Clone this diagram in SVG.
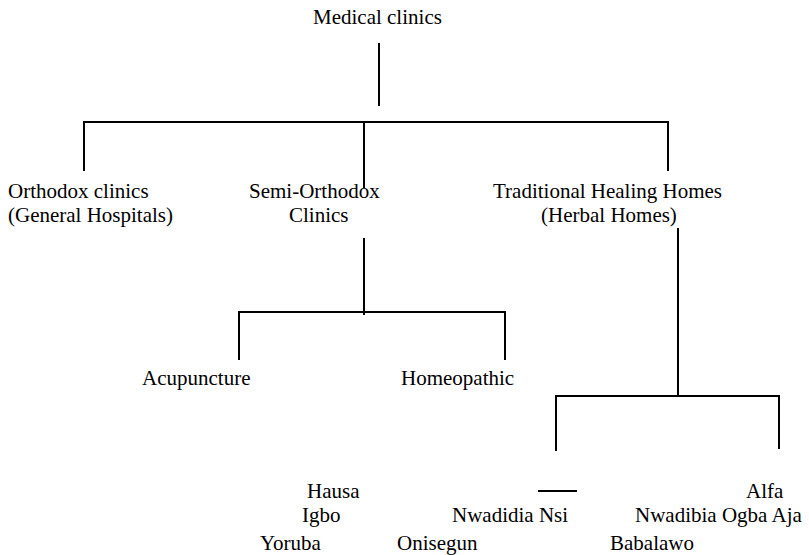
<svg xmlns="http://www.w3.org/2000/svg" width="809" height="555" viewBox="0 0 809 555">
<style>
text{font-family:"Liberation Serif","Times New Roman",serif;font-size:21px;fill:#000}
.c line{stroke:#000;stroke-width:2;fill:none}
</style>
<rect width="809" height="555" fill="#fff"/>
<g class="c" id="connectors">
<line x1="379" y1="43" x2="379" y2="106"/>
<line x1="83" y1="122" x2="669" y2="122"/>
<line x1="84" y1="122" x2="84" y2="171"/>
<line x1="364" y1="122" x2="364" y2="188"/>
<line x1="668" y1="122" x2="668" y2="171"/>
<line x1="364" y1="238" x2="364" y2="315"/>
<line x1="238" y1="312" x2="506" y2="312"/>
<line x1="239" y1="312" x2="239" y2="360"/>
<line x1="505" y1="312" x2="505" y2="360"/>
<line x1="678" y1="228" x2="678" y2="396"/>
<line x1="555" y1="396" x2="780" y2="396"/>
<line x1="556" y1="396" x2="556" y2="451"/>
<line x1="779" y1="396" x2="779" y2="449"/>
<line x1="538" y1="491" x2="577" y2="491"/>
</g>
<g id="medical"><text x="313" y="24">Medical clinics</text></g>
<g id="orthodox"><text x="8" y="198">Orthodox clinics</text><text x="8" y="222">(General Hospitals)</text></g>
<g id="semi"><text x="249" y="198">Semi-Orthodox</text><text x="289" y="222">Clinics</text></g>
<g id="traditional"><text x="493" y="198">Traditional Healing Homes</text><text x="541" y="222">(Herbal Homes)</text></g>
<g id="acupuncture"><text x="142" y="385">Acupuncture</text></g>
<g id="homeopathic"><text x="401" y="385">Homeopathic</text></g>
<g id="hausa"><text x="307" y="498">Hausa</text></g>
<g id="igbo"><text x="302" y="522">Igbo</text></g>
<g id="yoruba"><text x="260" y="550">Yoruba</text></g>
<g id="nwadidia"><text x="452" y="522">Nwadidia Nsi</text></g>
<g id="onisegun"><text x="397" y="550">Onisegun</text></g>
<g id="alfa"><text x="746" y="498">Alfa</text></g>
<g id="nwadibia"><text x="635" y="522">Nwadibia Ogba Aja</text></g>
<g id="babalawo"><text x="610" y="550">Babalawo</text></g>
</svg>
